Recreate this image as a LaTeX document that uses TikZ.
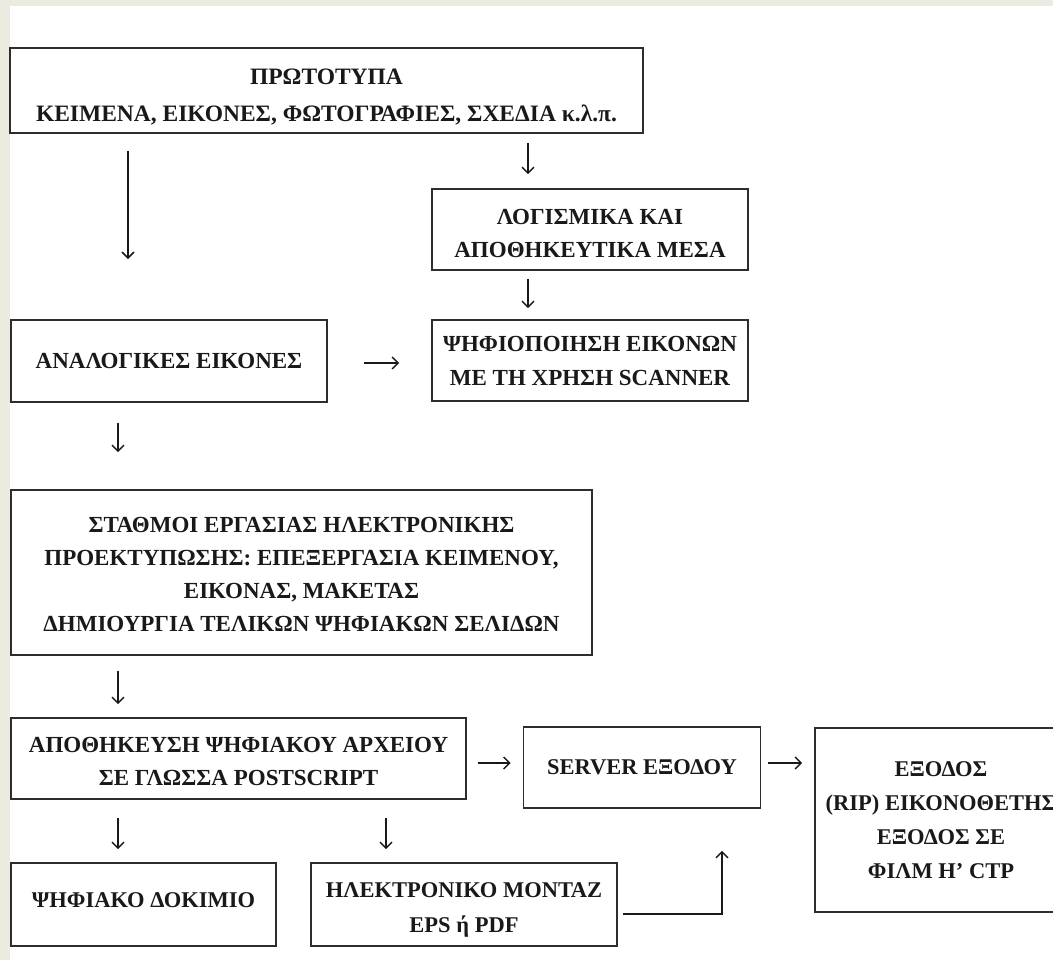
\documentclass[tikz,border=0pt]{standalone}
\usepackage{fontspec}
\setmainfont{Liberation Serif}
\usetikzlibrary{arrows.meta}
\definecolor{beige}{RGB}{236,235,226}
\definecolor{ink}{RGB}{25,25,25}
\definecolor{edge}{RGB}{45,45,45}
\newcommand{\setfs}[2]{\fontsize{#1}{#2}\selectfont\bfseries}
\begin{document}
\begin{tikzpicture}[x=1pt,y=-1pt,
  box/.style={draw=edge, line width=1.6pt, rectangle, inner sep=0pt},
  txt/.style={align=center, inner sep=0pt, text=ink, font=\setfs{23}{34}},
  arr/.style={draw=ink, line width=1.4pt, -{Straight Barb[length=6pt,width=12pt]}}]
\fill[white] (0,0) rectangle (1053,960);
\fill[beige] (0,0) rectangle (1053,6);
\fill[beige] (0,0) rectangle (10,960);
\useasboundingbox (0,0) rectangle (1053,960);

% boxes
\node[box, minimum width=633pt, minimum height=85pt] (top) at (326.5,90.5) {};
\node[box, minimum width=316pt, minimum height=81pt] (log) at (590,229.5) {};
\node[box, minimum width=316pt, minimum height=81pt] (psf) at (590,360.5) {};
\node[box, minimum width=316pt, minimum height=82pt] (ana) at (169,361) {};
\node[box, minimum width=581pt, minimum height=165pt] (sta) at (301.5,572.5) {};
\node[box, minimum width=455pt, minimum height=81pt] (apo) at (238.5,758.5) {};
\node[box, minimum width=237pt, minimum height=81pt] (srv) at (642,767.5) {};
\node[box, minimum width=252pt, minimum height=184pt] (exo) at (941,820) {};
\node[box, minimum width=265pt, minimum height=83pt] (psd) at (143.5,904.5) {};
\node[box, minimum width=306pt, minimum height=83pt] (ele) at (464,904.5) {};

% texts
\node[txt, font=\setfs{23.5}{37}] (top-t) at ([yshift=-7pt]top.center)
  {ΠΡΩΤΟΤΥΠΑ\\ΚΕΙΜΕΝΑ, ΕΙΚΟΝΕΣ, ΦΩΤΟΓΡΑΦΙΕΣ, ΣΧΕΔΙΑ κ.λ.π.};
\node[txt, font=\setfs{23}{33}] (log-t) at ([yshift=-4pt]log.center)
  {ΛΟΓΙΣΜΙΚΑ ΚΑΙ\\ΑΠΟΘΗΚΕΥΤΙΚΑ ΜΕΣΑ};
\node[txt] (psf-t) at (psf.center)
  {ΨΗΦΙΟΠΟΙΗΣΗ ΕΙΚΟΝΩΝ\\ΜΕ ΤΗ ΧΡΗΣΗ SCANNER};
\node[txt] (ana-t) at (ana.center) {ΑΝΑΛΟΓΙΚΕΣ ΕΙΚΟΝΕΣ};
\node[txt, font=\setfs{23}{33}] (sta-t) at ([yshift=-2pt]sta.center)
  {ΣΤΑΘΜΟΙ ΕΡΓΑΣΙΑΣ ΗΛΕΚΤΡΟΝΙΚΗΣ\\ΠΡΟΕΚΤΥΠΩΣΗΣ: ΕΠΕΞΕΡΓΑΣΙΑ ΚΕΙΜΕΝΟΥ,\\ΕΙΚΟΝΑΣ, ΜΑΚΕΤΑΣ\\ΔΗΜΙΟΥΡΓΙΑ ΤΕΛΙΚΩΝ ΨΗΦΙΑΚΩΝ ΣΕΛΙΔΩΝ};
\node[txt, font=\setfs{23}{33}] (apo-t) at ([yshift=-3pt]apo.center)
  {ΑΠΟΘΗΚΕΥΣΗ ΨΗΦΙΑΚΟΥ ΑΡΧΕΙΟΥ\\ΣΕ ΓΛΩΣΣΑ POSTSCRIPT};
\node[txt, font=\setfs{22.5}{34}] (srv-t) at (srv.center) {SERVER ΕΞΟΔΟΥ};
\node[txt, font=\setfs{22.5}{34}] (exo-t) at (exo.center)
  {ΕΞΟΔΟΣ\\(RIP) ΕΙΚΟΝΟΘΕΤΗΣ\\ΕΞΟΔΟΣ ΣΕ\\ΦΙΛΜ Η’ CTP};
\node[txt, font=\setfs{22.5}{34}] (psd-t) at ([yshift=4pt]psd.center) {ΨΗΦΙΑΚΟ ΔΟΚΙΜΙΟ};
\node[txt, font=\setfs{22.5}{35}] (ele-t) at ([yshift=-5pt]ele.center)
  {ΗΛΕΚΤΡΟΝΙΚΟ ΜΟΝΤΑΖ\\EPS ή PDF};

% helper coordinates (columns / rows)
\coordinate (c128) at (128,0);
\coordinate (c528) at (528,0);
\coordinate (c118) at (118,0);
\coordinate (c386) at (386,0);
\coordinate (c722) at (722,0);
\coordinate (r363) at (0,363);
\coordinate (r763) at (0,763);
\coordinate (r914) at (0,914);

% connectors
\draw[arr, line width=1.6pt, shorten <=17pt, shorten >=60pt] (top.south -| c128) -- (ana.north -| c128);
\draw[arr, shorten <=9pt, shorten >=14pt] (top.south -| c528) -- (log.north -| c528);
\draw[arr, shorten <=8pt, shorten >=11pt] (log.south -| c528) -- (psf.north -| c528);
\draw[arr, shorten <=36pt, shorten >=32pt] (ana.east |- r363) -- (psf.west |- r363);
\draw[arr, shorten <=20pt, shorten >=37pt] (ana.south -| c118) -- (sta.north -| c118);
\draw[arr, shorten <=15pt, shorten >=13pt] (sta.south -| c118) -- (apo.north -| c118);
\draw[arr, shorten <=11pt, shorten >=12pt] (apo.east |- r763) -- (srv.west |- r763);
\draw[arr, shorten <=7pt, shorten >=12pt] (srv.east |- r763) -- (exo.west |- r763);
\draw[arr, shorten <=18pt, shorten >=13pt] (apo.south -| c118) -- (psd.north -| c118);
\draw[arr, shorten <=18pt, shorten >=13pt] (apo.south -| c386) -- (ele.north -| c386);
\draw[arr, shorten <=5pt, shorten >=42pt] (ele.east |- r914) -| (srv.south -| c722);
\end{tikzpicture}
\end{document}
